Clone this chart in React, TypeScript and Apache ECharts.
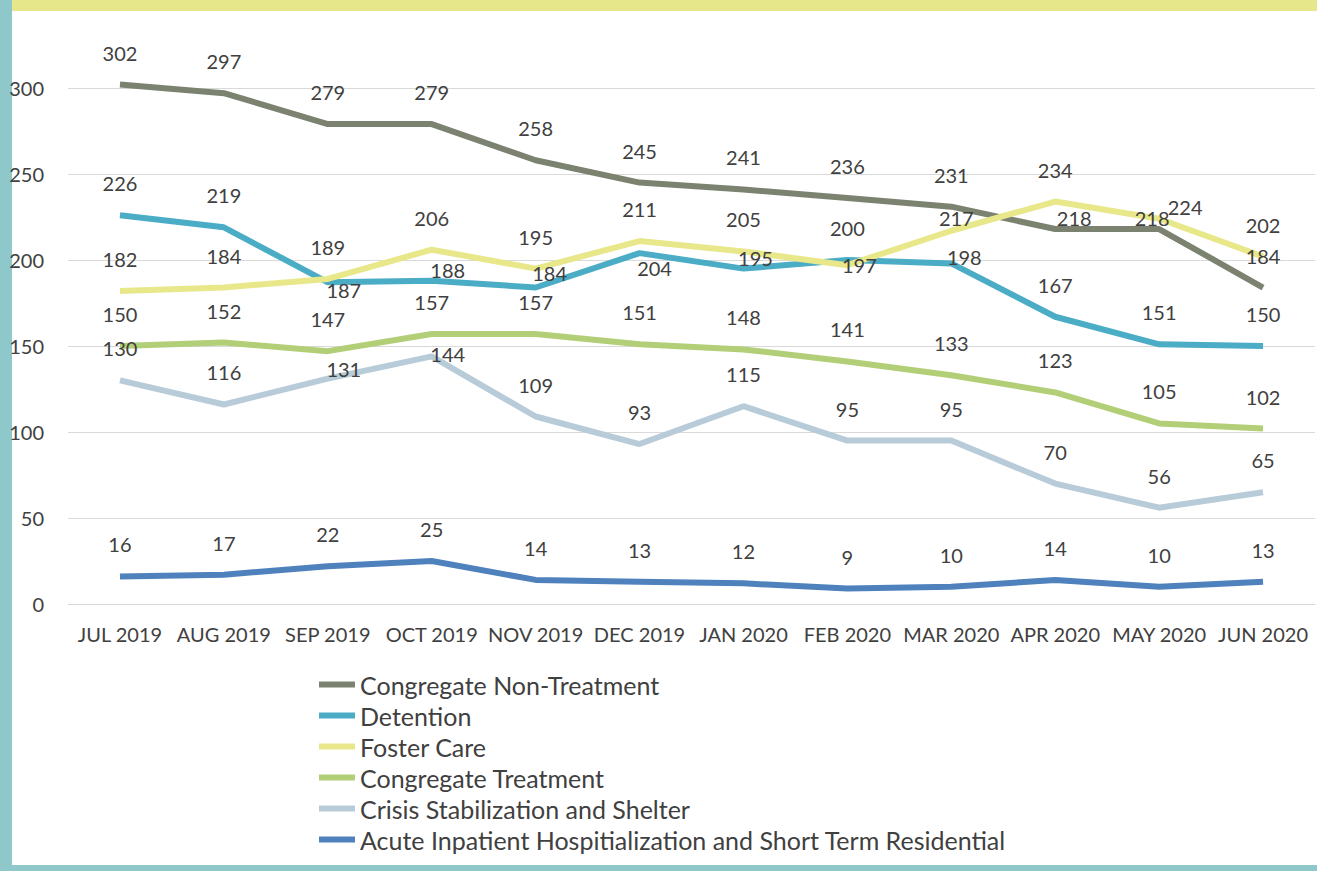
import React, { useEffect, useRef } from "react";
import * as echarts from "echarts";

const months = ["JUL 2019", "AUG 2019", "SEP 2019", "OCT 2019", "NOV 2019", "DEC 2019", "JAN 2020", "FEB 2020", "MAR 2020", "APR 2020", "MAY 2020", "JUN 2020"];
const congregateNonTreatment = [302, 297, 279, 279, 258, 245, 241, 236, 231, 218, 218, 184];
const detention = [226, 219, 187, 188, 184, 204, 195, 200, 198, 167, 151, 150];
const fosterCare = [182, 184, 189, 206, 195, 211, 205, 197, 217, 234, 224, 202];
const congregateTreatment = [150, 152, 147, 157, 157, 151, 148, 141, 133, 123, 105, 102];
const crisisStabilization = [130, 116, 131, 144, 109, 93, 115, 95, 95, 70, 56, 65];
const acuteInpatient = [16, 17, 22, 25, 14, 13, 12, 9, 10, 14, 10, 13];
const yTicks = [0, 50, 100, 150, 200, 250, 300];

// Layout only: label nudges [seriesIndex, pointIndex, dx, dy]
const labelNudges: [number, number, number, number][] = [
  [0, 9, 19, 21], [0, 10, -7, 21],
  [1, 2, 16, 40], [1, 3, 16, 21], [1, 4, 14, 17], [1, 5, 15, 47], [1, 6, 12, 21], [1, 8, 13, 26],
  [2, 7, 12, 32], [2, 8, 5, 19], [2, 10, 26, 20],
  [4, 2, 16, 22], [4, 3, 16, 30],
];

const seriesDefs = [
  { name: "Congregate Non-Treatment", data: congregateNonTreatment, color: "#7B8270" },
  { name: "Detention", data: detention, color: "#4BACC6" },
  { name: "Foster Care", data: fosterCare, color: "#E8E88A" },
  { name: "Congregate Treatment", data: congregateTreatment, color: "#B2CF78" },
  { name: "Crisis Stabilization and Shelter", data: crisisStabilization, color: "#B7CBD8" },
  { name: "Acute Inpatient Hospitialization and Short Term Residential", data: acuteInpatient, color: "#4F81BD" },
];

const FONT = "Lato, 'Noto Sans', sans-serif";
const TEXT = "#404040";

export default function App() {
  const ref = useRef<HTMLDivElement>(null);
  useEffect(() => {
    document.body.style.margin = "0";
    const chart = echarts.init(ref.current!, undefined, { renderer: "svg" });
    const series = seriesDefs.map((s, si) => ({
      type: "line",
      name: s.name,
      symbol: "circle",
      symbolSize: 0.01,
      showSymbol: true,
      clip: false,
      lineStyle: { color: s.color, width: 6 },
      itemStyle: { color: s.color },
      emphasis: { disabled: true },
      label: {
        show: true,
        position: "top",
        distance: 22,
        fontSize: 20,
        fontFamily: FONT,
        color: TEXT,
      },
      data: s.data.map((v, pi) => {
        const n = labelNudges.find((x) => x[0] === si && x[1] === pi);
        return n ? { value: v, label: { offset: [n[2], n[3]] } } : { value: v };
      }),
    }));
    chart.setOption({
      animation: false,
      backgroundColor: "#ffffff",
      textStyle: { fontFamily: FONT },
      graphic: [
        { type: "rect", shape: { x: 0, y: 0, width: 1317, height: 11 }, style: { fill: "#E6E68A" } },
        { type: "rect", shape: { x: 0, y: 0, width: 12, height: 871 }, style: { fill: "#8EC8CA" } },
        { type: "rect", shape: { x: 0, y: 865, width: 1317, height: 6 }, style: { fill: "#8EC8CA" } },
      ],
      grid: { left: 68, right: 2, top: 88, bottom: 267, containLabel: false },
      xAxis: {
        type: "category",
        data: months,
        boundaryGap: true,
        axisLine: { show: true, lineStyle: { color: "#D9D9D9", width: 1 } },
        axisTick: { show: false },
        axisLabel: { color: TEXT, fontSize: 20, fontFamily: FONT, margin: 20, interval: 0 },
      },
      yAxis: {
        type: "value",
        min: yTicks[0],
        max: yTicks[yTicks.length - 1],
        interval: yTicks[1] - yTicks[0],
        axisLine: { show: false },
        axisTick: { show: false },
        splitLine: { lineStyle: { color: "#D9D9D9", width: 1 } },
        axisLabel: { color: TEXT, fontSize: 20, fontFamily: FONT, margin: 24 },
      },
      legend: {
        orient: "vertical",
        left: 314,
        top: 667,
        icon: "rect",
        itemWidth: 36,
        itemHeight: 6,
        itemGap: 6,
        textStyle: { color: TEXT, fontSize: 25, lineHeight: 25, fontFamily: FONT, padding: [0, 0, 0, 0] },
        data: seriesDefs.map((s) => s.name),
      },
      series,
    });
    return () => chart.dispose();
  }, []);
  return <div ref={ref} style={{ position: "absolute", left: 0, top: 0, width: 1317, height: 871 }} />;
}
